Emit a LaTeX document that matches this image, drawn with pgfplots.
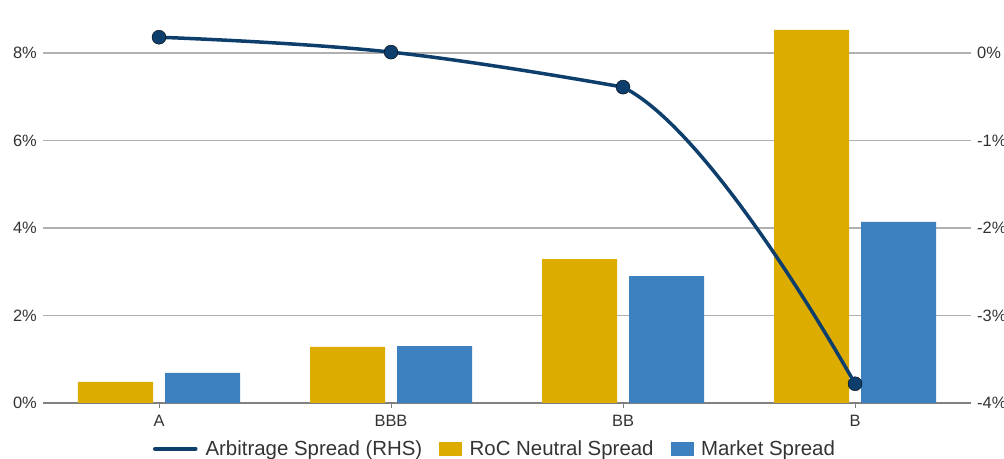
\documentclass[border=0pt]{standalone}
\usepackage{pgfplots}
\pgfplotsset{compat=1.18}
\usepackage{fontspec}
\setmainfont{Liberation Sans}
\definecolor{gold}{HTML}{DDAC00}
\definecolor{mblue}{HTML}{3D80BF}
\definecolor{navy}{HTML}{0E3E6C}
\definecolor{txt}{HTML}{333333}
\definecolor{gridc}{HTML}{B0B0B0}
\definecolor{axisc}{HTML}{808080}
\begin{document}
\begin{tikzpicture}
\path[use as bounding box] (0bp,0bp) rectangle (1004bp,459bp);
\begin{axis}[
  at={(43bp,56bp)}, anchor=south west, scale only axis,
  width=928bp, height=393.75bp,
  xmin=-0.5, xmax=3.5, ymin=0, ymax=9,
  axis x line*=bottom, axis y line*=left,
  y axis line style={draw=none},
  x axis line style={axisc, line width=1.8bp},
  xtick={0,1,2,3}, xticklabels={A,BBB,BB,B},
  xtick align=outside, ytick align=inside,
  major tick length=5bp,
  xtick style={axisc, line width=1bp},
  ytick style={draw=none},
  ytick={0,2,4,6,8}, yticklabels={0\%,2\%,4\%,6\%,8\%},
  ymajorgrids, grid style={gridc, line width=1.2bp},
  tick label style={font=\fontsize{16.5}{18}\selectfont, text=txt, inner sep=0pt},
  xticklabel shift=6.5bp, yticklabel shift=6bp,
]
\addplot[ybar, bar width=75bp, bar shift=-43.5bp, fill=gold, draw=none]
  coordinates {(0,0.48) (1,1.28) (2,3.29) (3,8.53)};
\addplot[ybar, bar width=75bp, bar shift=43.5bp, fill=mblue, draw=none]
  coordinates {(0,0.69) (1,1.30) (2,2.90) (3,4.14)};
\end{axis}
% right-hand axis: left part of the spread curve, markers, legend
\begin{axis}[
  at={(43bp,56bp)}, anchor=south west, scale only axis,
  width=928bp, height=393.75bp,
  xmin=-0.5, xmax=3.5, ymin=-4, ymax=0.5,
  axis x line=none, axis y line*=right,
  y axis line style={draw=none},
  ytick align=inside, ytick style={draw=none},
  ytick={-4,-3,-2,-1,0}, yticklabels={-4\%,-3\%,-2\%,-1\%,0\%},
  tick label style={font=\fontsize{16.5}{18}\selectfont, text=txt, inner sep=0pt},
  yticklabel shift=6bp,
  legend columns=-1,
  legend style={at={(0.4860,-0.1168)}, anchor=center, draw=none, fill=none,
    font=\fontsize{20.5}{24}\selectfont, text=txt,
    nodes={inner sep=0pt},
    /tikz/every odd column/.append style={column sep=8bp},
    /tikz/every even column/.append style={column sep=17bp}},
]
\addplot[navy, line width=3.5bp, smooth, tension=0.72,
  legend image code/.code={\draw[navy, line width=3.5bp, line cap=round] (0bp,0bp) -- (41bp,0bp);}]
  coordinates {(0,0.18) (1,0.01) (2,-0.39)};
\addlegendentry{Arbitrage Spread (RHS)}
\addlegendimage{legend image code/.code={\fill[gold] (0bp,-6.5bp) rectangle (22bp,6.5bp);}}
\addlegendentry{RoC Neutral Spread}
\addlegendimage{legend image code/.code={\fill[mblue] (0bp,-6.5bp) rectangle (22bp,6.5bp);}}
\addlegendentry{Market Spread}
\addplot[only marks, mark=*, mark size=7bp, mark options={solid, fill=navy, draw=none}, forget plot]
  coordinates {(0,0.18) (1,0.01) (2,-0.39) (3,-3.78)};
\end{axis}
% clipped axis from BB onward: right part of the spread curve
\begin{axis}[
  at={(623bp,56bp)}, anchor=south west, scale only axis,
  width=348bp, height=393.75bp,
  xmin=2, xmax=3.5, ymin=-4, ymax=0.5,
  hide axis, clip=true,
]
\addplot[navy, line width=3.5bp, smooth, tension=0.48]
  coordinates {(0,0.18) (2,-0.39) (3,-3.78)};
\end{axis}
\end{tikzpicture}
\end{document}
